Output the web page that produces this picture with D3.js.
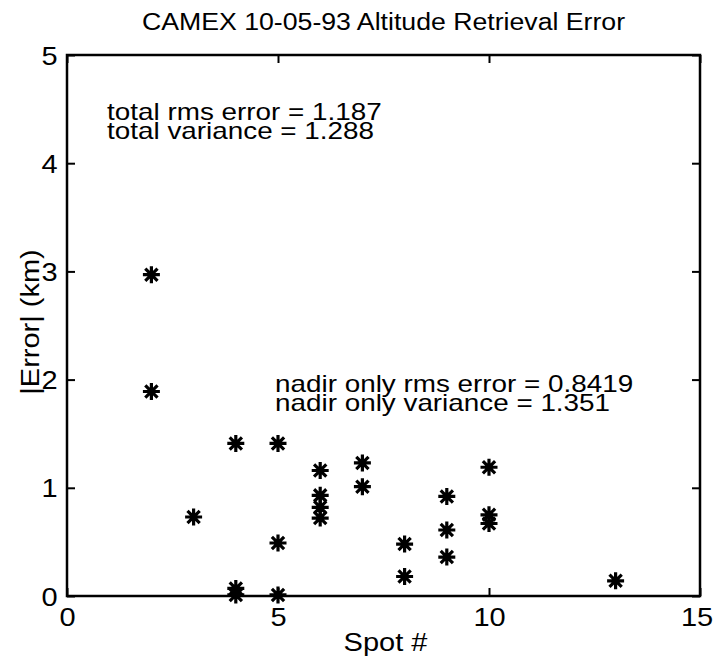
<!DOCTYPE html>
<html lang="en">
<head>
<meta charset="utf-8">
<title>CAMEX Altitude Retrieval Error</title>
<script src="https://d3js.org/d3.v7.min.js"></script>
<style type="text/css">
  body { margin: 0; background: #fff; }
  svg { width: 715px; height: 665px; }
  text { font-family: "Liberation Sans", Arial, sans-serif; fill: #000; }
  .title { font-size: 23px; }
  .ticklabel { font-size: 25px; }
  .axislabel { font-size: 25px; }
  .note { font-size: 24px; }
</style>
</head>
<body>
<svg></svg>
<script type="text/javascript">

// data
const spot = [2, 2, 3, 4, 4, 4, 5, 5, 5, 6, 6, 6, 6, 7, 7, 8, 8, 9, 9, 9, 10, 10, 10, 13];
const absError = [2.97, 1.89, 0.73, 1.41, 0.07, 0.01, 1.41, 0.49, 0.01, 1.16, 0.93, 0.82, 0.72,
                  1.23, 1.01, 0.48, 0.18, 0.92, 0.61, 0.36, 1.19, 0.75, 0.67, 0.14];
const xTicks = [0, 5, 10, 15];
const yTicks = [0, 1, 2, 3, 4, 5];
const totalNotes = ["total rms error = 1.187", "total variance = 1.288"];
const nadirNotes = ["nadir only rms error = 0.8419", "nadir only variance = 1.351"];

const plotL = 67, plotR = 700, plotT = 55, plotB = 596;
const wide = 1.16; // the printed font is a bit wider than Arial

const x = d3.scaleLinear().domain([0, 15]).range([plotL, plotR]);
const y = d3.scaleLinear().domain([0, 5]).range([plotB, plotT]);

const svg = d3.select("svg");

// box
svg.append("rect")
   .attr("x", plotL).attr("y", plotT)
   .attr("width", plotR - plotL).attr("height", plotB - plotT)
   .attr("fill", "none").attr("stroke", "#000").attr("stroke-width", 2.5);

// axes with inward ticks (MATLAB style), no domain lines
const tickLen = 8;
const axes = [
  {gen: d3.axisBottom(x).tickValues(xTicks), tr: [0, plotB], labels: "x"},
  {gen: d3.axisTop(x).tickValues(xTicks), tr: [0, plotT], labels: null},
  {gen: d3.axisLeft(y).tickValues(yTicks), tr: [plotL, 0], labels: "y"},
  {gen: d3.axisRight(y).tickValues(yTicks), tr: [plotR, 0], labels: null}
];
axes.forEach(a => {
  a.gen.tickSizeInner(-tickLen).tickSizeOuter(0).tickFormat(d3.format("d"));
  const g = svg.append("g").attr("transform", "translate(" + a.tr + ")").call(a.gen);
  g.select(".domain").remove();
  g.selectAll(".tick line").attr("stroke", "#000").attr("stroke-width", 2);
  const lab = g.selectAll(".tick text");
  if (!a.labels) { lab.remove(); return; }
  g.attr("font-size", null).attr("font-family", null);
  lab.attr("class", "ticklabel").attr("transform", "scale(" + wide + ",1)");
  if (a.labels === "x") {
    lab.attr("y", 12).attr("dy", "0.71em")
       .attr("x", d => d === xTicks[xTicks.length - 1] ? -3 : 0);
  } else {
    lab.attr("x", -8).attr("dy", "0.36em");
  }
});

// asterisk markers
const r = 8.5, rd = r * 0.72;
const star = "M" + (-r) + ",0L" + r + ",0" +
             "M0," + (-r) + "L0," + r +
             "M" + (-rd) + "," + (-rd) + "L" + rd + "," + rd +
             "M" + (-rd) + "," + rd + "L" + rd + "," + (-rd);

svg.append("g").selectAll("path")
   .data(spot.map((s, i) => [s, absError[i]]))
   .enter()
   .append("path")
   .attr("transform", d => "translate(" + [x(d[0]), y(d[1])] + ")")
   .attr("d", star)
   .attr("fill", "none")
   .attr("stroke", "#000")
   .attr("stroke-width", 3.2);

// title and axis labels
svg.append("text")
   .attr("class", "title")
   .attr("transform", "translate(" + ((plotL + plotR) / 2) + ",30) scale(" + wide + ",1)")
   .attr("text-anchor", "middle")
   .text("CAMEX 10-05-93 Altitude Retrieval Error");

svg.append("text")
   .attr("class", "axislabel")
   .attr("transform", "translate(" + ((plotL + plotR) / 2 + 2) + ",651) scale(" + wide + ",1)")
   .attr("text-anchor", "middle")
   .text("Spot #");

svg.append("text")
   .attr("class", "axislabel")
   .attr("transform", "translate(39,322) rotate(-90) scale(" + wide + ",1)")
   .attr("text-anchor", "middle")
   .text("|Error| (km)");

// annotations
function notes(lines, xv, yv) {
  const t = svg.append("text").attr("class", "note")
     .attr("transform", "translate(" + [x(xv), y(yv)] + ") scale(" + wide + ",1)");
  lines.forEach((s, i) => {
    t.append("tspan").attr("x", 0).attr("y", i * 19).text(s);
  });
}
notes(totalNotes, 0.95, 4.4);
notes(nadirNotes, 4.93, 1.89);

</script>
</body>
</html>
